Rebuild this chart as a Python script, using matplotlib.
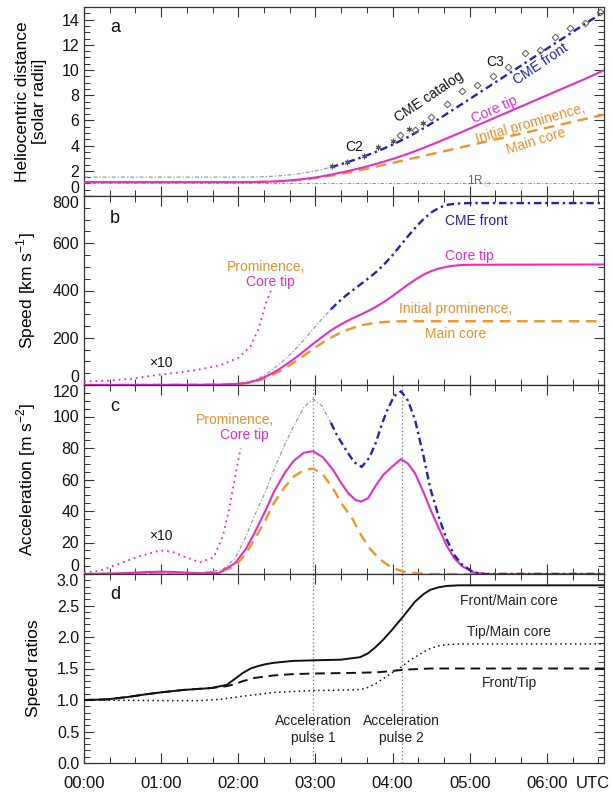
import numpy as np
import matplotlib
matplotlib.use('Agg')
import matplotlib.pyplot as plt
from matplotlib.ticker import MultipleLocator

plt.rcParams['font.family'] = ['Liberation Sans', 'DejaVu Sans']
plt.rcParams['mathtext.fontset'] = 'custom'
plt.rcParams['mathtext.rm'] = 'Liberation Sans'

# ---------------- data (time in hours UTC) ----------------
# Panel a: heliocentric distance [solar radii]
t_a_front = [0, 2.0, 2.2, 2.4, 2.6, 2.8, 3.0, 3.2, 3.4, 3.6, 3.8, 4.0, 4.2, 4.4, 4.6, 4.8, 5.0, 5.5, 6.0, 6.5, 6.74]
r_a_front = [1.50, 1.50, 1.51, 1.55, 1.63, 1.77, 1.99, 2.28, 2.65, 3.07, 3.54, 4.07, 4.68, 5.37, 6.12, 6.91, 7.70, 9.69, 11.69, 13.68, 14.63]
t_a_tip = [0, 2.0, 2.2, 2.4, 2.6, 2.8, 3.0, 3.2, 3.4, 3.6, 3.8, 4.0, 4.2, 4.4, 4.6, 4.8, 5.0, 5.5, 6.0, 6.5, 6.74]
r_a_tip = [1.10, 1.10, 1.11, 1.14, 1.20, 1.31, 1.47, 1.69, 1.95, 2.24, 2.57, 2.94, 3.35, 3.81, 4.31, 4.83, 5.35, 6.67, 7.99, 9.31, 9.98]
t_a_core = [0, 2.0, 2.2, 2.4, 2.6, 2.8, 3.0, 3.2, 3.4, 3.6, 3.8, 4.0, 4.2, 4.5, 5.0, 5.5, 6.0, 6.5, 6.74]
r_a_core = [1.10, 1.10, 1.11, 1.13, 1.19, 1.28, 1.42, 1.61, 1.83, 2.08, 2.35, 2.63, 2.91, 3.32, 4.02, 4.72, 5.42, 6.12, 6.45]
t_c2 = [3.21, 3.41, 3.63, 3.81, 4.00, 4.21, 4.39]
r_c2 = [2.41, 2.67, 3.20, 3.91, 4.39, 5.29, 5.82]
t_c3 = [4.09, 4.29, 4.50, 4.70, 4.90, 5.10, 5.30, 5.50, 5.71, 5.91, 6.10, 6.30, 6.50, 6.69]
r_c3 = [4.84, 5.24, 6.24, 7.32, 8.36, 8.84, 9.52, 10.26, 11.35, 11.59, 12.60, 13.31, 13.72, 14.62]

# Panel b: speed [km/s]
t_b_front = [0, 1.5, 1.8, 2.0, 2.1, 2.2, 2.3, 2.4, 2.5, 2.6, 2.7, 2.8, 2.9, 3.0, 3.1, 3.2, 3.3, 3.4, 3.5, 3.6,
             3.7, 3.8, 3.9, 4.0, 4.1, 4.2, 4.3, 4.4, 4.5, 4.6, 4.7, 4.8, 4.9, 5.0, 6.74]
v_b_front = [0, 1, 2, 4, 10, 20, 35, 55, 80, 107, 138, 172, 210, 248, 285, 320, 352, 380, 405, 430,
             455, 482, 514, 550, 590, 630, 668, 702, 730, 750, 762, 767, 769, 770, 770]
t_b_tip = [0, 1.5, 1.8, 2.0, 2.1, 2.2, 2.3, 2.4, 2.5, 2.6, 2.7, 2.8, 2.9, 3.0, 3.1, 3.2, 3.3, 3.4, 3.5, 3.6,
           3.7, 3.8, 3.9, 4.0, 4.1, 4.2, 4.3, 4.4, 4.5, 4.6, 4.7, 4.8, 4.9, 5.0, 6.74]
v_b_tip = [0, 1, 2, 5, 8, 16, 27, 43, 61, 82, 105, 130, 156, 182, 207, 231, 251, 269, 285, 300,
           316, 334, 354, 377, 401, 425, 447, 467, 482, 493, 500, 505, 508, 509, 510]
t_b_core = [0, 1.5, 1.8, 2.0, 2.1, 2.2, 2.3, 2.4, 2.5, 2.6, 2.7, 2.8, 2.9, 3.0, 3.1, 3.2, 3.3, 3.4, 3.5, 3.6,
            3.7, 3.8, 3.9, 4.0, 4.2, 6.74]
v_b_core = [0, 1, 2, 5, 8, 13, 23, 36, 52, 70, 91, 113, 136, 159, 181, 200, 218, 232, 243, 253,
            259, 264, 267, 269, 270, 270]
t_b_prom = [0, 0.3, 0.6, 0.94, 1.2, 1.45, 1.75, 2.0, 2.16, 2.26, 2.31, 2.36, 2.43]
v_b_prom = [15, 18, 26, 42, 52, 63, 82, 115, 165, 236, 292, 349, 406]

# Panel c: acceleration [m/s^2]
t_c_front = [0, 1.5, 1.8, 1.96, 2.1, 2.21, 2.35, 2.46, 2.6, 2.72, 2.85, 2.97, 3.08, 3.2, 3.28, 3.38, 3.5, 3.6,
             3.7, 3.78, 3.86, 3.93, 4.02, 4.11, 4.2, 4.29, 4.4, 4.49, 4.6, 4.7, 4.8, 4.9, 5.05, 5.2, 6.74]
a_c_front = [0, 0.5, 3, 10, 24, 37, 52, 66, 82, 94, 106, 111, 107, 96, 88, 80, 71, 68,
             74, 83, 95, 104, 113, 116, 110, 98, 75, 54, 36, 22, 12, 6, 1, 0, 0]
t_c_tip = [0, 0.5, 0.8, 1.0, 1.2, 1.5, 1.75, 1.96, 2.1, 2.21, 2.35, 2.46, 2.6, 2.72, 2.85, 2.97, 3.1, 3.23,
           3.33, 3.43, 3.52, 3.59, 3.68, 3.78, 3.88, 3.99, 4.11, 4.2, 4.29, 4.4, 4.49, 4.6, 4.7, 4.8, 4.9,
           5.05, 5.2, 6.74]
a_c_tip = [0, 0.5, 1.2, 1.5, 1.2, 0.5, 0.6, 7, 16, 26, 40, 52, 64, 72, 77, 78, 74, 66,
           58, 51, 47, 46, 48, 56, 63, 68, 73, 70, 64, 52, 41, 29, 18, 10, 5,
           1, 0, 0]
t_c_core = [0, 1.5, 1.8, 1.96, 2.1, 2.21, 2.35, 2.46, 2.6, 2.72, 2.85, 2.97, 3.1, 3.23, 3.35, 3.48, 3.6,
            3.69, 3.8, 3.9, 3.99, 4.14, 4.3, 4.5, 6.74]
a_c_core = [0, 0.3, 2, 5, 13, 22, 34, 45, 55, 62, 66, 67, 63, 54, 44, 35, 24,
            17, 11, 7, 4, 1.5, 0.5, 0, 0]
t_c_prom = [0, 0.2, 0.43, 0.7, 0.99, 1.15, 1.3, 1.5, 1.68, 1.8, 1.88, 1.96, 2.03]
a_c_prom = [1, 2, 6, 11, 15, 14, 11, 7.5, 10.5, 24, 41, 62, 80]

# Panel d: speed ratios
t_d_fm = [0, 0.3, 0.58, 0.8, 0.99, 1.29, 1.65, 1.85, 1.95, 2.06, 2.16, 2.26, 2.36, 2.46, 2.7, 2.97, 3.33,
          3.58, 3.68, 3.78, 3.88, 3.99, 4.14, 4.29, 4.4, 4.49, 4.6, 4.7, 4.85, 5.0, 6.74]
r_d_fm = [1.0, 1.01, 1.05, 1.09, 1.12, 1.16, 1.19, 1.24, 1.33, 1.43, 1.5, 1.54, 1.57, 1.59, 1.62, 1.63, 1.64,
          1.68, 1.74, 1.84, 1.96, 2.11, 2.33, 2.56, 2.68, 2.75, 2.79, 2.81, 2.82, 2.82, 2.82]
t_d_ft = [0, 0.3, 0.58, 0.8, 0.99, 1.29, 1.65, 1.85, 1.95, 2.06, 2.21, 2.46, 2.7, 2.97, 3.48, 3.8, 3.99,
          4.14, 4.3, 4.49, 6.74]
r_d_ft = [1.0, 1.01, 1.05, 1.09, 1.12, 1.16, 1.19, 1.22, 1.25, 1.30, 1.35, 1.39, 1.41, 1.42, 1.43, 1.44, 1.46,
          1.48, 1.49, 1.50, 1.50]
t_d_tm = [0, 1.0, 1.5, 1.75, 2.06, 2.46, 2.97, 3.48, 3.6, 3.68, 3.78, 3.88, 3.99, 4.09, 4.19, 4.29, 4.4,
          4.49, 4.6, 4.7, 4.9, 6.74]
r_d_tm = [1.0, 0.99, 0.99, 1.01, 1.06, 1.12, 1.15, 1.16, 1.17, 1.2, 1.26, 1.34, 1.43, 1.5, 1.6, 1.68, 1.76,
          1.82, 1.86, 1.88, 1.89, 1.89]

pulse_times = [2.97, 4.12]
hour_ticks = [0, 1, 2, 3, 4, 5, 6]
hour_labels = ['00:00', '01:00', '02:00', '03:00', '04:00', '05:00', '06:00']
utc_pos = 6.6
yticks_a = [0, 2, 4, 6, 8, 10, 12, 14]
yticks_b = [0, 200, 400, 600, 800]
yticks_c = [0, 20, 40, 60, 80, 100, 120]
yticks_d = [0.0, 0.5, 1.0, 1.5, 2.0, 2.5, 3.0]
FRONT_SPLIT = 3.2

# ---------------- style ----------------
BLUE = '#2222b4'
BLUE_THIN = '#8e9cc8'
MAGENTA = '#e52ec6'
ORANGE = '#f0952c'
TXT_ORANGE = '#e8902e'
GRAY = '#777777'
XMAX = 6.74

fig = plt.figure(figsize=(6.13, 7.94), dpi=100)
L, W = 84 / 613, 520 / 613
H = 189 / 794
bottoms = [1 - 196 / 794, 1 - 385 / 794, 1 - 574 / 794, 1 - 763 / 794]
axes = [fig.add_axes([L, b, W, H]) for b in bottoms]
axa, axb, axc, axd = axes

for ax in axes:
    ax.set_xlim(0, XMAX)
    ax.xaxis.set_minor_locator(MultipleLocator(1 / 3))
    ax.tick_params(which='both', direction='in', top=True, right=True, colors='#333333',
                   labelcolor='#111111')
    ax.tick_params(axis='x', labelsize=12)
    ax.tick_params(axis='y', labelsize=11.5)
    ax.tick_params(which='major', length=7, width=0.8)
    ax.tick_params(which='minor', length=4, width=0.7)
    for s in ax.spines.values():
        s.set_linewidth(0.9)
        s.set_color('#333333')

for ax in (axa, axb, axc):
    ax.set_xticks(hour_ticks)
    ax.set_xticklabels([])
axd.set_xticks(hour_ticks + [utc_pos])
axd.set_xticklabels(hour_labels + ['UTC'])
axd.tick_params(axis='x', pad=9)
utc_tick = axd.xaxis.get_major_ticks()[-1]
utc_tick.tick1line.set_visible(False)
utc_tick.tick2line.set_visible(False)

dashdot = (0, (3.2, 1.6, 1.0, 1.6))
dashed = (0, (4.5, 2.8))


def front(ax, t, y):
    t = np.asarray(t)
    y = np.asarray(y)
    m1 = t <= FRONT_SPLIT
    m2 = t >= FRONT_SPLIT
    ax.plot(t[m1], y[m1], color=BLUE_THIN, lw=0.9, linestyle=dashdot, zorder=2)
    ax.plot(t[m2], y[m2], color=BLUE, lw=1.7, linestyle=dashdot, zorder=4)


def set_yticks(ax, ticks, labels, top_label=True, bottom_label=True):
    ax.set_yticks(ticks)
    ax.set_yticklabels(labels)
    tl = ax.get_yticklabels()
    if bottom_label:
        tl[0].set_verticalalignment('bottom')
    if top_label:
        tl[-1].set_verticalalignment('top')


# ---- panel a ----
axa.set_ylim(0, 15)
set_yticks(axa, yticks_a, [str(v) for v in yticks_a], top_label=False)
axa.yaxis.set_minor_locator(MultipleLocator(0.5))
axa.axhline(1.0, color='#999999', lw=0.8, linestyle=dashdot, zorder=1)
front(axa, t_a_front, r_a_front)
axa.plot(t_a_core, r_a_core, color=ORANGE, lw=1.7, linestyle=dashed, zorder=3)
axa.plot(t_a_tip, r_a_tip, color=MAGENTA, lw=1.5, zorder=3)
axa.plot(t_c2, r_c2, linestyle='none', marker=(6, 2, 0), ms=4, color='#555555', mew=0.8, zorder=5)
axa.plot(t_c3, r_c3, linestyle='none', marker='D', ms=3.4, mfc='none', mec='#6a6a6a', mew=0.8, zorder=5)
axa.set_ylabel('Heliocentric distance\n[solar radii]', fontsize=12.5, linespacing=1.15)
axa.text(4.47, 7.88, 'CME catalog', rotation=34, fontsize=10, ha='center', va='center', color='#111111')
axa.text(3.5, 3.91, 'C2', fontsize=10, ha='center', va='center', color='#111111')
axa.text(5.33, 10.66, 'C3', fontsize=10, ha='center', va='center', color='#111111')
axa.text(5.92, 10.5, 'CME front', rotation=34, fontsize=10, ha='center', va='center', color=BLUE)
axa.text(5.32, 6.85, 'Core tip', rotation=24, fontsize=10, ha='center', va='center', color=MAGENTA)
axa.text(5.79, 5.77, 'Initial prominence,', rotation=16, fontsize=10, ha='center', va='center', color=TXT_ORANGE)
axa.text(5.86, 4.31, 'Main core', rotation=17, fontsize=10, ha='center', va='center', color=TXT_ORANGE)
axa.text(5.13, 1.2, r'1R$_\odot$', fontsize=8.5, ha='center', va='center', color='#666666')
axa.text(0.05, 0.89, 'a', transform=axa.transAxes, fontsize=13, va='center', color='#111111')

# ---- panel b ----
axb.set_ylim(0, 800)
set_yticks(axb, yticks_b, [str(v) for v in yticks_b])
axb.yaxis.set_minor_locator(MultipleLocator(50))
front(axb, t_b_front, v_b_front)
axb.plot(t_b_core, v_b_core, color=ORANGE, lw=1.7, linestyle=dashed, zorder=3)
axb.plot(t_b_tip, v_b_tip, color=MAGENTA, lw=1.5, zorder=3)
axb.plot(t_b_prom, v_b_prom, color=MAGENTA, lw=1.3, linestyle=(0, (1, 2.2)), zorder=3)
axb.set_ylabel(r'Speed [km s$^{\mathregular{-1}}$]', fontsize=12.5)
axb.text(0.99, 92, '×10', fontsize=10, ha='center', va='center', color='#111111')
axb.text(2.36, 501, 'Prominence,', fontsize=10, ha='center', va='center', color=TXT_ORANGE)
axb.text(2.41, 437, 'Core tip', fontsize=10, ha='center', va='center', color=MAGENTA)
axb.text(5.08, 695, 'CME front', fontsize=10, ha='center', va='center', color=BLUE)
axb.text(5.0, 546, 'Core tip', fontsize=10, ha='center', va='center', color=MAGENTA)
axb.text(4.82, 320, 'Initial prominence,', fontsize=10, ha='center', va='center', color=TXT_ORANGE)
axb.text(4.82, 216, 'Main core', fontsize=10, ha='center', va='center', color=TXT_ORANGE)
axb.text(0.05, 0.88, 'b', transform=axb.transAxes, fontsize=13, va='center', color='#111111')

# ---- panel c ----
axc.set_ylim(0, 120)
set_yticks(axc, yticks_c, [str(v) for v in yticks_c])
axc.yaxis.set_minor_locator(MultipleLocator(5))
for pt in pulse_times:
    axc.axvline(pt, color=GRAY, lw=0.9, linestyle=(0, (1, 2)), zorder=1)
front(axc, t_c_front, a_c_front)
axc.plot(t_c_core, a_c_core, color=ORANGE, lw=1.7, linestyle=dashed, zorder=3)
axc.plot(t_c_tip, a_c_tip, color=MAGENTA, lw=1.5, zorder=3)
axc.plot(t_c_prom, a_c_prom, color=MAGENTA, lw=1.3, linestyle=(0, (1, 2.2)), zorder=3)
axc.set_ylabel(r'Acceleration [m s$^{\mathregular{-2}}$]', fontsize=12.5)
axc.text(0.99, 24, '×10', fontsize=10, ha='center', va='center', color='#111111')
axc.text(1.96, 98, 'Prominence,', fontsize=10, ha='center', va='center', color=TXT_ORANGE)
axc.text(2.08, 88, 'Core tip', fontsize=10, ha='center', va='center', color=MAGENTA)
axc.text(0.05, 0.885, 'c', transform=axc.transAxes, fontsize=13, va='center', color='#111111')

# ---- panel d ----
axd.set_ylim(0, 3.0)
set_yticks(axd, yticks_d, ['%.1f' % v for v in yticks_d], bottom_label=False)
axd.yaxis.set_minor_locator(MultipleLocator(0.1))
for pt in pulse_times:
    axd.axvline(pt, color=GRAY, lw=0.9, linestyle=(0, (1, 2)), zorder=1)
axd.plot(t_d_fm, r_d_fm, color='#111111', lw=1.4, zorder=3)
axd.plot(t_d_ft, r_d_ft, color='#111111', lw=1.4, linestyle=(0, (5, 3)), zorder=4)
axd.plot(t_d_tm, r_d_tm, color='#111111', lw=1.1, linestyle=(0, (1, 2.2)), zorder=3)
axd.set_ylabel('Speed ratios', fontsize=12.5)
axd.text(5.51, 2.57, 'Front/Main core', fontsize=10, ha='center', va='center', color='#222222')
axd.text(5.51, 2.08, 'Tip/Main core', fontsize=10, ha='center', va='center', color='#222222')
axd.text(5.51, 1.27, 'Front/Tip', fontsize=10, ha='center', va='center', color='#222222')
axd.text(2.97, 0.53, 'Acceleration\npulse 1', fontsize=10, ha='center', va='center', color='#222222',
         linespacing=1.3)
axd.text(4.12, 0.53, 'Acceleration\npulse 2', fontsize=10, ha='center', va='center', color='#222222',
         linespacing=1.3)
axd.text(0.05, 0.89, 'd', transform=axd.transAxes, fontsize=13, va='center', color='#111111')

axa.yaxis.set_label_coords(-0.071, 0.5)
axb.yaxis.set_label_coords(-0.088, 0.5)
axc.yaxis.set_label_coords(-0.088, 0.5)
axd.yaxis.set_label_coords(-0.083, 0.5)

fig.savefig('out.png', dpi=100)
